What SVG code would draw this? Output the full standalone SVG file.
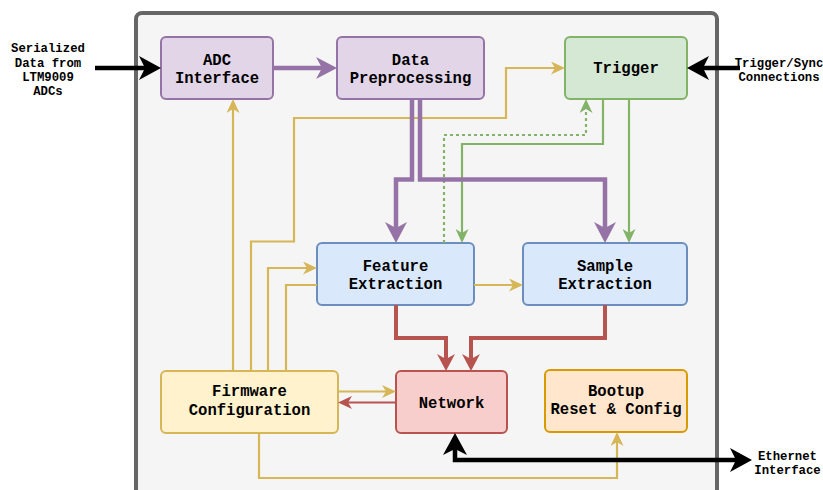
<svg xmlns="http://www.w3.org/2000/svg" width="823" height="490" viewBox="0 0 823 490">
<style>
.box{stroke-width:2}
.t{font-family:"Liberation Mono","Courier New",monospace;font-weight:bold;font-size:15.6px;text-anchor:middle;fill:#000}
.o{font-family:"Liberation Mono","Courier New",monospace;font-weight:bold;font-size:12.3px;text-anchor:middle;fill:#000}
.c{fill:none;stroke-linejoin:miter}
.blk{stroke:#000;stroke-width:4.5}
.pur{stroke:#9673a6;stroke-width:4.5}
.red{stroke:#b85450;stroke-width:4}
.redt{stroke:#b85450;stroke-width:2.2}
.yel{stroke:#d6b656;stroke-width:2.2}
.grn{stroke:#82b366;stroke-width:2.2}
</style>
<defs>
<marker id="mBlk" markerUnits="userSpaceOnUse" viewBox="-22 -12 22 24" markerWidth="22" markerHeight="24" refX="-16" refY="0" orient="auto-start-reverse"><path d="M0,0 L-22,-12 L-16,0 L-22,12 Z" fill="#000"/></marker>
<marker id="mPur" markerUnits="userSpaceOnUse" viewBox="-21 -11 21 22" markerWidth="21" markerHeight="22" refX="-15" refY="0" orient="auto"><path d="M0,0 L-21,-11 L-15,0 L-21,11 Z" fill="#9673a6"/></marker>
<marker id="mRed" markerUnits="userSpaceOnUse" viewBox="-17 -9 17 18" markerWidth="17" markerHeight="18" refX="-12" refY="0" orient="auto"><path d="M0,0 L-17,-9 L-12,0 L-17,9 Z" fill="#b85450"/></marker>
<marker id="mRedS" markerUnits="userSpaceOnUse" viewBox="-14 -6.5 14 13" markerWidth="14" markerHeight="13" refX="-10" refY="0" orient="auto"><path d="M0,0 L-14,-6.5 L-10,0 L-14,6.5 Z" fill="#b85450"/></marker>
<marker id="mYel" markerUnits="userSpaceOnUse" viewBox="-14 -6.5 14 13" markerWidth="14" markerHeight="13" refX="-10" refY="0" orient="auto"><path d="M0,0 L-14,-6.5 L-10,0 L-14,6.5 Z" fill="#d6b656"/></marker>
<marker id="mGrn" markerUnits="userSpaceOnUse" viewBox="-14 -6.5 14 13" markerWidth="14" markerHeight="13" refX="-10" refY="0" orient="auto"><path d="M0,0 L-14,-6.5 L-10,0 L-14,6.5 Z" fill="#82b366"/></marker>
</defs>

<rect id="container" x="136" y="13" width="581" height="492" rx="6" fill="#f5f5f5" stroke="#666666" stroke-width="4"/>

<g id="nodes">
<g id="adc"><rect class="box" x="161" y="37" width="112" height="62" rx="5" fill="#e1d5e7" stroke="#9673a6"/><text class="t" x="217" y="64.5">ADC</text><text class="t" x="217" y="82.5">Interface</text></g>
<g id="dataprep"><rect class="box" x="337" y="37" width="147" height="62" rx="5" fill="#e1d5e7" stroke="#9673a6"/><text class="t" x="410.5" y="64.5">Data</text><text class="t" x="410.5" y="82.5">Preprocessing</text></g>
<g id="trigger"><rect class="box" x="565" y="37" width="122" height="62" rx="5" fill="#d5e8d4" stroke="#82b366"/><text class="t" x="626" y="73">Trigger</text></g>
<g id="feature"><rect class="box" x="317" y="243" width="157" height="62" rx="5" fill="#dae8fc" stroke="#6c8ebf"/><text class="t" x="395.5" y="270.5">Feature</text><text class="t" x="395.5" y="288.5">Extraction</text></g>
<g id="sample"><rect class="box" x="523" y="243" width="164" height="62" rx="5" fill="#dae8fc" stroke="#6c8ebf"/><text class="t" x="605" y="270.5">Sample</text><text class="t" x="605" y="288.5">Extraction</text></g>
<g id="firmware"><rect class="box" x="161" y="371" width="177" height="62" rx="5" fill="#fff2cc" stroke="#d6b656"/><text class="t" x="249.5" y="396">Firmware</text><text class="t" x="249.5" y="414.5">Configuration</text></g>
<g id="network"><rect class="box" x="396" y="371" width="111" height="62" rx="5" fill="#f8cecc" stroke="#b85450"/><text class="t" x="451.5" y="408">Network</text></g>
<g id="bootup"><rect class="box" x="545" y="370" width="142" height="62" rx="5" fill="#ffe6cc" stroke="#d79b00"/><text class="t" x="616" y="395.5">Bootup</text><text class="t" x="616" y="414">Reset &amp; Config</text></g>
</g>

<g id="labels">
<text class="o" x="48" y="52">Serialized</text>
<text class="o" x="48" y="66.5">Data from</text>
<text class="o" x="48" y="80.5">LTM9009</text>
<text class="o" x="48" y="94.5">ADCs</text>
<text class="o" x="779" y="67">Trigger/Sync</text>
<text class="o" x="779" y="80.5">Connections</text>
<text class="o" x="787.5" y="459.5">Ethernet</text>
<text class="o" x="787.5" y="473.5">Interface</text>
</g>

<g id="connectors">
<path class="c yel" d="M233,371 L233,109" marker-end="url(#mYel)"/>
<path class="c yel" d="M251,371 L251,241.5 L294,241.5 L294,118 L506,118 L506,68 L555,68" marker-end="url(#mYel)"/>
<path class="c yel" d="M268,371 L268,268 L307,268" marker-end="url(#mYel)"/>
<path class="c yel" d="M286,371 L286,285 L317,285"/>
<path class="c yel" d="M474,285 L513,285" marker-end="url(#mYel)"/>
<path class="c yel" d="M338,391.5 L386,391.5" marker-end="url(#mYel)"/>
<path class="c yel" d="M259,433 L259,478 L617,478 L617,442" marker-end="url(#mYel)"/>
<path class="c redt" d="M396,402.5 L348,402.5" marker-end="url(#mRedS)"/>
<path class="c grn" d="M603,99 L603,144 L462,144 L462,233" marker-end="url(#mGrn)"/>
<path class="c grn" d="M629,99 L629,233" marker-end="url(#mGrn)"/>
<path class="c grn" d="M444,243 L444,135 L586,135 L586,109" stroke-dasharray="3 3" marker-end="url(#mGrn)"/>
<path class="c pur" d="M273,68 L322,68" marker-end="url(#mPur)"/>
<path class="c pur" d="M412,99 L412,179.5 L396,179.5 L396,228" marker-end="url(#mPur)"/>
<path class="c pur" d="M420,99 L420,179.5 L605,179.5 L605,228" marker-end="url(#mPur)"/>
<path class="c red" d="M396,305 L396,338 L446,338 L446,359" marker-end="url(#mRed)"/>
<path class="c red" d="M605,305 L605,338 L471,338 L471,359" marker-end="url(#mRed)"/>
<path class="c blk" d="M95,68 L145,68" marker-end="url(#mBlk)"/>
<path class="c blk" d="M740,68 L703,68" marker-end="url(#mBlk)"/>
<path class="c blk" d="M455,449 L455,460 L736,460" marker-start="url(#mBlk)" marker-end="url(#mBlk)"/>
</g>
</svg>
